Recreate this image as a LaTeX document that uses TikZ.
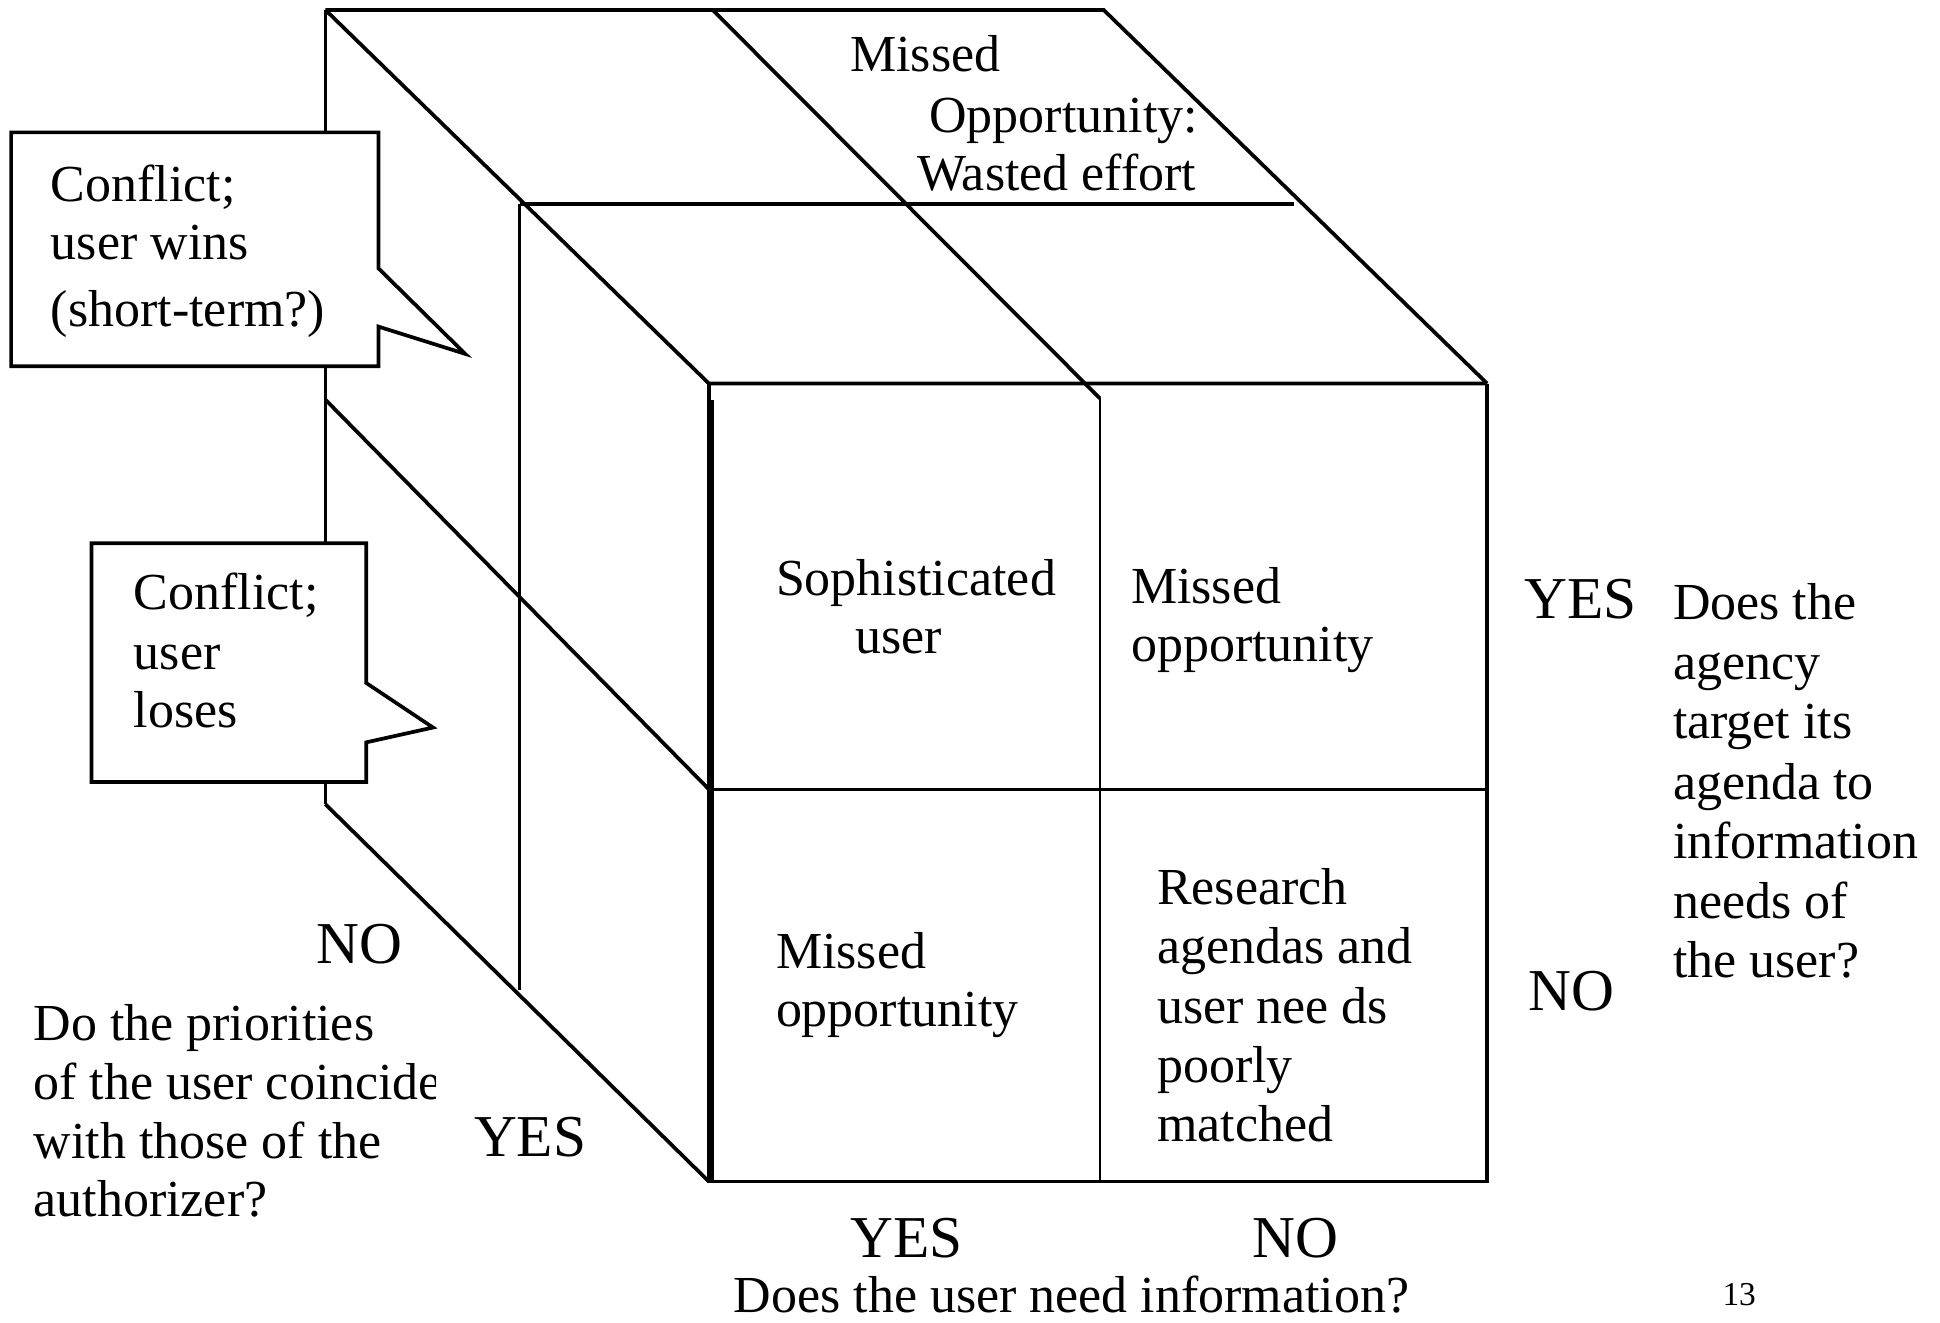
\documentclass[tikz,border=0pt]{standalone}
\usepackage{fontspec}
\setmainfont{Liberation Serif}
\begin{document}
\begin{tikzpicture}[x=1pt,y=-1pt,
  edge/.style={line width=3pt,line join=miter,line cap=butt},
  thinedge/.style={line width=2.2pt},
  thickedge/.style={line width=4.4pt},
  callout/.style={line width=3pt,fill=white,line join=miter},
  txt/.style={anchor=base west,inner sep=0pt,font=\fontsize{42}{48}\selectfont},
  big/.style={anchor=base west,inner sep=0pt,font=\fontsize{48}{54}\selectfont},
  small/.style={anchor=base west,inner sep=0pt,font=\fontsize{27}{30}\selectfont}]
\useasboundingbox (0,0) rectangle (1568,1069);
% coordinates of the cube
\coordinate (BTL) at (263,8);
\coordinate (BTM) at (576,8);
\coordinate (BTR) at (892,8);
\coordinate (FTL) at (573,310);
\coordinate (FTR) at (1202,310);
\coordinate (FBL) at (573,955);
\coordinate (FBR) at (1202,955);
\coordinate (MTL) at (420,165);
\coordinate (MTR) at (1046,165);
\coordinate (FTM) at (889,322);
\coordinate (FBM) at (889,955);
\coordinate (FML) at (573,638);
\coordinate (FMR) at (1202,638);
\coordinate (BML) at (263,323);
\coordinate (BBL) at (263,650);
\coordinate (MBL) at (420,800);
% top face
\draw[edge] (BTL) -- (BTR) -- (FTR);
\draw[edge] (BTL) -- (FTL) -- (FTR);
\draw[edge] (BTM) -- (FTM);
\draw[edge] (MTL) -- (MTR);
% front face
\draw[edge] (FTR) -- (FBR) -- (FBL) -- (FTL);
\draw[thickedge] (575,323) -- (575,955);
\draw[thinedge] (FTM) -- (FBM);
\draw[edge] (FML) -- (FMR);
% left face
\draw[edge] (BTL) -- (BBL);
\draw[thinedge] (MTL) -- (MBL);
\draw[edge] (BML) -- (FML);
\draw[edge] (BBL) -- (FBL);
% callouts
\draw[callout] (9,107) -- (306,107) -- (306,217) -- (376,286) -- (306,264) -- (306,296) -- (9,296) -- cycle;
\draw[callout] (74,439) -- (296,439) -- (296,552) -- (350,588) -- (296,600) -- (296,632) -- (74,632) -- cycle;
% callout texts
\node[txt] (c1a) at (41,163) {Conflict;};
\node[txt] (c1b) at (41,210) {user wins};
\node[txt] (c1c) at (41,264) {(short-term?)};
\node[txt] (c2a) at (108,493) {Conflict;};
\node[txt] (c2b) at (108,541) {user};
\node[txt] (c2c) at (108,588) {loses};
% top face text
\node[txt] (t1) at (687,58) {Missed};
\node[txt] (t2) at (751,107) {Opportunity:};
\node[txt] (t3) at (741,154) {Wasted effort};
% front cells
\node[txt] (s1) at (627,481) {Sophisticated};
\node[txt] (s2) at (691,528) {user};
\node[txt] (m1) at (914,488) {Missed};
\node[txt] (m2) at (914,535) {opportunity};
\node[txt] (n1) at (627,783) {Missed};
\node[txt] (n2) at (627,830) {opportunity};
\node[txt] (r1) at (935,731) {Research};
\node[txt] (r2) at (935,779) {agendas and};
\node[txt] (r3) at (935,827) {user nee ds};
\node[txt] (r4) at (935,875) {poorly};
\node[txt] (r5) at (935,923) {matched};
% right axis
\node[big] (ry) at (1232,500) {YES};
\node[big] (rn) at (1235,817) {NO};
\node[txt] (q1) at (1352,501) {Does the};
\node[txt] (q2) at (1352,549) {agency};
\node[txt] (q3) at (1352,597) {target its};
\node[txt] (q4) at (1352,646) {agenda to};
\node[txt] (q5) at (1352,694) {information};
\node[txt] (q6) at (1352,742) {needs of};
\node[txt] (q7) at (1352,790) {the user?};
% left axis
\node[big] (ln) at (256,779) {NO};
\node[big] (ly) at (383,935) {YES};
\node[txt] (p1) at (27,841) {Do the priorities};
\begin{scope}
\clip (0,850) rectangle (352,900);
\node[txt] (p2) at (27,889) {of the user coincide};
\end{scope}
\node[txt] (p3) at (27,936) {with those of the};
\node[txt] (p4) at (27,983) {authorizer?};
% bottom axis
\node[big] (by) at (687,1016) {YES};
\node[big] (bn) at (1012,1016) {NO};
\node[txt] (bq) at (593,1061) {Does the user need information?};
\node[small] (pg) at (1392,1055) {13};
\end{tikzpicture}
\end{document}
